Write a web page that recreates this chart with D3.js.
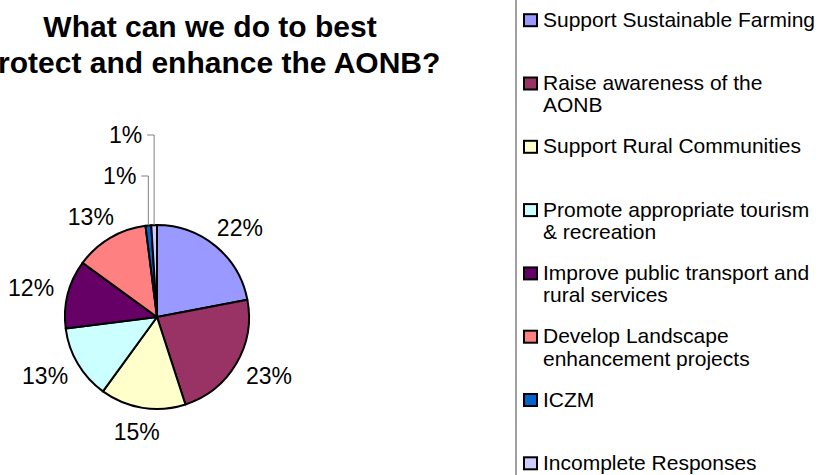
<!DOCTYPE html>
<html>
<head>
<meta charset="utf-8">
<script src="https://cdn.jsdelivr.net/npm/d3@7"></script>
<style>
  html, body { margin: 0; padding: 0; background: #ffffff; }
  svg { display: block; font-family: "Liberation Sans", Arial, sans-serif; }
</style>
</head>
<body>
<svg id="chart" width="823" height="475"></svg>
<script>
// ---- data ----
const titleLines = ["What can we do to best", "protect and enhance the AONB?"];
const categories = [
  "Support Sustainable Farming",
  "Raise awareness of the AONB",
  "Support Rural Communities",
  "Promote appropriate tourism & recreation",
  "Improve public transport and rural services",
  "Develop Landscape enhancement projects",
  "ICZM",
  "Incomplete Responses"
];
const values = [22, 23, 15, 13, 12, 13, 1, 1];
const colors = ["#9999FF", "#993366", "#FFFFCC", "#CCFFFF", "#660066", "#FF8080", "#0066CC", "#CCCCFF"];

// ---- layout ----
const W = 823, H = 475;
const svg = d3.select("#chart");
const cx = 157, cy = 317, R = 92, labelD = 107;
const total = d3.sum(values);

// title
const title = svg.append("text")
  .attr("x", 210).attr("y", 37)
  .attr("text-anchor", "middle")
  .attr("font-size", 30).attr("font-weight", "bold").attr("fill", "#000");
titleLines.forEach((t, i) => {
  title.append("tspan").attr("x", 210).attr("y", 37 + i * 36).text(t);
});

// pie
const pie = d3.pie().sort(null).value(d => d.value);
const arcs = pie(categories.map((c, i) => ({ name: c, value: values[i], color: colors[i] })));
const arc = d3.arc().innerRadius(0).outerRadius(R);
const labelArc = d3.arc().innerRadius(labelD).outerRadius(labelD);

const g = svg.append("g").attr("transform", `translate(${cx},${cy})`);
g.selectAll("path.slice").data(arcs).enter().append("path")
  .attr("class", "slice")
  .attr("d", arc)
  .attr("fill", d => d.data.color)
  .attr("stroke", "#000")
  .attr("stroke-width", 2)
  .attr("stroke-linejoin", "round");

const fmt = v => Math.round(v / total * 100) + "%";

// regular labels: box placed just outside the pie along the mid-angle
const big = arcs.filter(d => d.data.value / total >= 0.05);
g.selectAll("text.lbl").data(big).enter().append("text")
  .attr("class", "lbl")
  .attr("dy", "0.35em")
  .attr("text-anchor", "middle")
  .attr("font-size", 23)
  .attr("fill", "#000")
  .text(d => fmt(d.data.value))
  .each(function (d) {
    const a = (d.startAngle + d.endAngle) / 2;
    const bb = this.getBBox();
    const hw = bb.width / 2, hh = 9;
    const [x, y] = labelArc.centroid(d);
    d3.select(this).attr("transform",
      `translate(${x + hw * Math.sin(a)},${y - hh * Math.cos(a)})`);
  });

// small labels with leader lines (stacked above pie)
const small = arcs.filter(d => d.data.value / total < 0.05);
const leaderTops = [-141, -182]; // label vertical centres relative to pie centre
small.forEach((d, i) => {
  const a = (d.startAngle + d.endAngle) / 2;
  const px = R * Math.sin(a), py = -R * Math.cos(a);
  const ly = leaderTops[i];
  g.append("path")
    .attr("d", `M${px},${py}V${ly}H${px - 7}`)
    .attr("fill", "none")
    .attr("stroke", "#808080")
    .attr("stroke-width", 1);
  g.append("text")
    .attr("x", px - 12).attr("y", ly)
    .attr("dy", "0.35em")
    .attr("text-anchor", "end")
    .attr("font-size", 23)
    .attr("fill", "#000")
    .text(fmt(d.data.value));
});

// legend border line
svg.append("line")
  .attr("x1", 516).attr("x2", 516).attr("y1", 0).attr("y2", H)
  .attr("stroke", "#808080").attr("stroke-width", 1.5);

// legend
const legX = 524, textX = 543, legY0 = 26.7, legStep = 63.3, lineH = 22.3, maxW = 276;
const leg = svg.append("g");
categories.forEach((c, i) => {
  const y = legY0 + i * legStep;
  leg.append("rect")
    .attr("x", legX).attr("y", y - 12.5)
    .attr("width", 13).attr("height", 12)
    .attr("fill", colors[i])
    .attr("stroke", "#000").attr("stroke-width", 2);
  const t = leg.append("text")
    .attr("x", textX).attr("y", y)
    .attr("font-size", 21).attr("fill", "#000");
  // word wrap
  const words = c.split(" ");
  let line = [], ln = 0;
  let ts = t.append("tspan").attr("x", textX).attr("y", y);
  words.forEach(w => {
    line.push(w);
    ts.text(line.join(" "));
    if (ts.node().getComputedTextLength() > maxW && line.length > 1) {
      line.pop();
      ts.text(line.join(" "));
      line = [w];
      ln++;
      ts = t.append("tspan").attr("x", textX).attr("y", y + ln * lineH).text(w);
    }
  });
});
</script>
</body>
</html>
